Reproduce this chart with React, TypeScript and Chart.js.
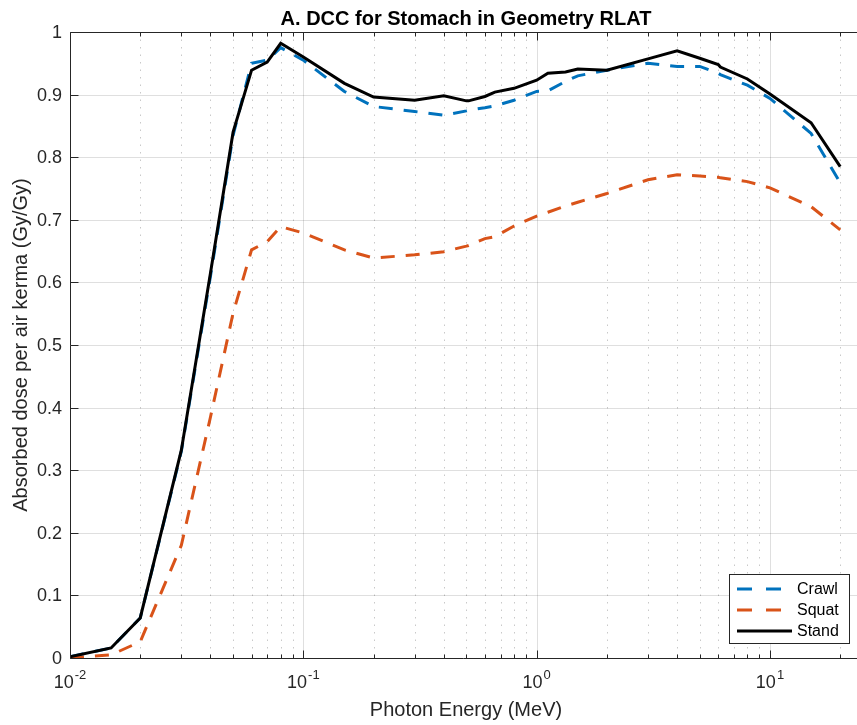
import React, { useEffect, useRef } from "react";
import { Chart, registerables } from "chart.js";

Chart.register(...registerables);

const energies = [0.01, 0.015, 0.02, 0.03, 0.04, 0.05, 0.06, 0.07, 0.08, 0.1, 0.15, 0.2, 0.3, 0.4, 0.5, 0.511, 0.6, 0.662, 0.8, 1, 1.117, 1.33, 1.5, 2, 3, 4, 5, 6, 6.129, 8, 10, 15, 20];

const crawl = [0.002, 0.016, 0.064, 0.33, 0.61, 0.835, 0.95, 0.955, 0.975, 0.955, 0.905, 0.881, 0.873, 0.867, 0.874, 0.875, 0.879, 0.882, 0.891, 0.905, 0.906, 0.921, 0.93, 0.939, 0.95, 0.945, 0.945, 0.934, 0.932, 0.915, 0.894, 0.838, 0.759];
const squat = [0.0, 0.005, 0.026, 0.18, 0.385, 0.551, 0.652, 0.665, 0.689, 0.679, 0.652, 0.639, 0.644, 0.649, 0.658, 0.659, 0.67, 0.673, 0.69, 0.706, 0.712, 0.722, 0.728, 0.742, 0.764, 0.772, 0.77, 0.768, 0.767, 0.761, 0.751, 0.721, 0.684];
const stand = [0.002, 0.016, 0.064, 0.332, 0.615, 0.84, 0.939, 0.952, 0.982, 0.96, 0.918, 0.896, 0.891, 0.898, 0.89, 0.89, 0.897, 0.904, 0.91, 0.923, 0.934, 0.936, 0.941, 0.939, 0.957, 0.97, 0.958, 0.948, 0.944, 0.925, 0.901, 0.855, 0.785];

const seriesNames = ["Crawl", "Squat", "Stand"];
const seriesColors = ["#0072BD", "#D95319", "#000000"];
const seriesDashes = [[14, 11], [14, 11], []];

const yTicks = [0, 0.1, 0.2, 0.3, 0.4, 0.5, 0.6, 0.7, 0.8, 0.9, 1];
const yTickLabels = ["0", "0.1", "0.2", "0.3", "0.4", "0.5", "0.6", "0.7", "0.8", "0.9", "1"];
const xMajorTicks = [0.01, 0.1, 1, 10];
const xTickExponents = ["-2", "-1", "0", "1"];
const xMinorMultipliers = [2, 3, 4, 5, 6, 7, 8, 9];

const titleText = "A. DCC for Stomach in Geometry RLAT";
const xLabel = "Photon Energy (MeV)";
const yLabel = "Absorbed dose per air kerma (Gy/Gy)";

const X_MIN = 0.01;
const X_MAX = 23.6;

const FONT = "'Liberation Sans', Arial, Helvetica, sans-serif";
const AXIS_COLOR = "#262626";

const matlabPlugin = {
  id: "matlabAxes",
  beforeDatasetsDraw(chart: any) {
    const { ctx, chartArea: a, scales } = chart;
    const x = scales.x;
    const y = scales.y;
    ctx.save();
    ctx.strokeStyle = "rgba(38,38,38,0.25)";
    ctx.lineWidth = 1;
    ctx.setLineDash([1.5, 6]);
    for (const base of xMajorTicks) {
      for (const m of xMinorMultipliers) {
        const v = base * m;
        if (v > X_MAX) continue;
        const px = Math.round(x.getPixelForValue(v)) + 0.5;
        ctx.beginPath();
        ctx.moveTo(px, a.top);
        ctx.lineTo(px, a.bottom);
        ctx.stroke();
      }
    }
    ctx.setLineDash([]);
    ctx.strokeStyle = "rgba(38,38,38,0.15)";
    for (const v of xMajorTicks) {
      if (v === X_MIN) continue;
      const px = Math.round(x.getPixelForValue(v)) + 0.5;
      ctx.beginPath();
      ctx.moveTo(px, a.top);
      ctx.lineTo(px, a.bottom);
      ctx.stroke();
    }
    for (const v of yTicks) {
      if (v === 0 || v === 1) continue;
      const py = Math.round(y.getPixelForValue(v)) + 0.5;
      ctx.beginPath();
      ctx.moveTo(a.left, py);
      ctx.lineTo(a.right, py);
      ctx.stroke();
    }
    ctx.restore();
  },
  afterDatasetsDraw(chart: any) {
    const { ctx, chartArea: a, scales } = chart;
    const x = scales.x;
    const y = scales.y;
    ctx.save();
    ctx.strokeStyle = AXIS_COLOR;
    ctx.lineWidth = 1;
    const left = Math.round(a.left) + 0.5;
    const bottom = Math.round(a.bottom) + 0.5;
    const top = Math.round(a.top) + 0.5;
    ctx.beginPath();
    ctx.moveTo(left, top);
    ctx.lineTo(left, bottom);
    ctx.lineTo(a.right, bottom);
    ctx.moveTo(left, top);
    ctx.lineTo(a.right, top);
    ctx.stroke();
    ctx.fillStyle = AXIS_COLOR;
    ctx.font = `18px ${FONT}`;
    ctx.textAlign = "right";
    ctx.textBaseline = "middle";
    yTicks.forEach((v, i) => {
      const py = Math.round(y.getPixelForValue(v)) + 0.5;
      ctx.beginPath();
      ctx.moveTo(left, py);
      ctx.lineTo(left + 8, py);
      ctx.stroke();
      ctx.fillText(yTickLabels[i], a.left - 8, py + 1);
    });
    xMajorTicks.forEach((v, i) => {
      const px = Math.round(x.getPixelForValue(v)) + 0.5;
      ctx.beginPath();
      ctx.moveTo(px, bottom);
      ctx.lineTo(px, bottom - 8);
      ctx.moveTo(px, top);
      ctx.lineTo(px, top + 8);
      ctx.stroke();
      ctx.font = `18px ${FONT}`;
      const wBase = ctx.measureText("10").width;
      ctx.font = `13px ${FONT}`;
      const wExp = ctx.measureText(xTickExponents[i]).width;
      const total = wBase + 1 + wExp;
      const start = x.getPixelForValue(v) - total / 2;
      ctx.textAlign = "left";
      ctx.textBaseline = "alphabetic";
      ctx.font = `18px ${FONT}`;
      ctx.fillText("10", start, a.bottom + 30);
      ctx.font = `13px ${FONT}`;
      ctx.fillText(xTickExponents[i], start + wBase + 1, a.bottom + 21);
    });
    for (const base of xMajorTicks) {
      for (const m of xMinorMultipliers) {
        const v = base * m;
        if (v > X_MAX) continue;
        const px = Math.round(x.getPixelForValue(v)) + 0.5;
        ctx.beginPath();
        ctx.moveTo(px, bottom);
        ctx.lineTo(px, bottom - 4);
        ctx.moveTo(px, top);
        ctx.lineTo(px, top + 4);
        ctx.stroke();
      }
    }
    ctx.font = `20px ${FONT}`;
    ctx.textAlign = "center";
    ctx.textBaseline = "alphabetic";
    ctx.fillText(xLabel, 466, 716);
    ctx.save();
    ctx.translate(27, (a.top + a.bottom) / 2);
    ctx.rotate(-Math.PI / 2);
    ctx.fillText(yLabel, 0, 0);
    ctx.restore();
    ctx.fillStyle = "#000";
    ctx.font = `bold 20px ${FONT}`;
    ctx.fillText(titleText, 466, 25);
    const lx = 729.5, ly = 574.5, lw = 120, lh = 69;
    ctx.fillStyle = "#fff";
    ctx.fillRect(lx, ly, lw, lh);
    ctx.strokeStyle = AXIS_COLOR;
    ctx.lineWidth = 1;
    ctx.strokeRect(lx, ly, lw, lh);
    const rows = [589, 610, 631];
    seriesNames.forEach((name, i) => {
      ctx.strokeStyle = seriesColors[i];
      ctx.lineWidth = 3;
      ctx.setLineDash(seriesDashes[i].length ? [15, 14] : []);
      ctx.beginPath();
      ctx.moveTo(737, rows[i]);
      ctx.lineTo(792, rows[i]);
      ctx.stroke();
      ctx.setLineDash([]);
      ctx.fillStyle = "#000";
      ctx.font = `16px ${FONT}`;
      ctx.textAlign = "left";
      ctx.textBaseline = "middle";
      ctx.fillText(name, 797, rows[i] + 1);
    });
    ctx.restore();
  },
};

export default function App() {
  const canvasRef = useRef<HTMLCanvasElement | null>(null);
  useEffect(() => {
    const canvas = canvasRef.current;
    if (!canvas) return;
    const seriesData = [crawl, squat, stand];
    const chart = new Chart(canvas, {
      type: "line",
      data: {
        datasets: seriesNames.map((name, i) => ({
          label: name,
          data: energies.map((e, j) => ({ x: e, y: seriesData[i][j] })),
          borderColor: seriesColors[i],
          borderWidth: 3,
          borderDash: seriesDashes[i],
          pointRadius: 0,
          fill: false,
          tension: 0,
          order: 2 - i,
        })),
      },
      options: {
        responsive: false,
        animation: false,
        devicePixelRatio: 1,
        layout: { padding: { left: 70, right: 0, top: 32, bottom: 67 } },
        plugins: { legend: { display: false }, tooltip: { enabled: false }, title: { display: false } },
        scales: {
          x: { type: "logarithmic", min: X_MIN, max: X_MAX, display: false },
          y: { type: "linear", min: 0, max: 1, display: false },
        },
      },
      plugins: [matlabPlugin],
    });
    return () => chart.destroy();
  }, []);
  return (
    <div style={{ position: "absolute", left: 0, top: 0, background: "#fff" }}>
      <canvas ref={canvasRef} width={857} height={725} style={{ display: "block" }} />
    </div>
  );
}
